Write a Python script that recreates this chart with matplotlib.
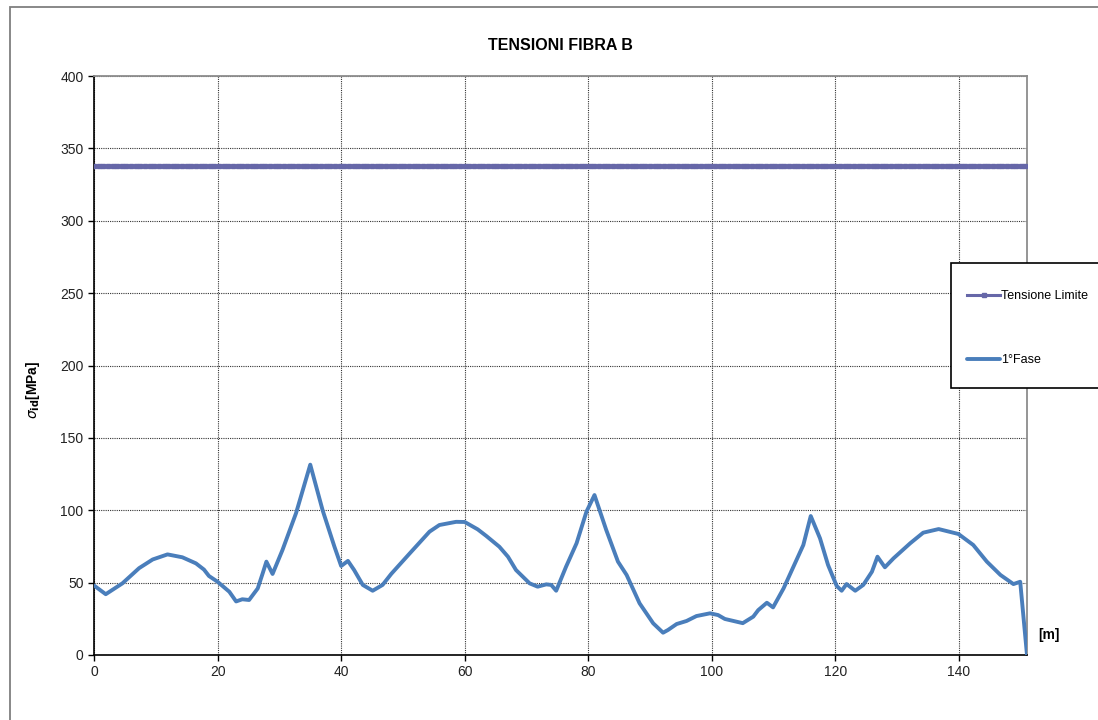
import numpy as np
import matplotlib
matplotlib.use("Agg")
import matplotlib.pyplot as plt
from matplotlib.patches import Rectangle

plt.rcParams['font.family'] = ['Liberation Sans', 'DejaVu Sans']

# data
x_fase = [0, 1.9, 4.6, 7.3, 9.5, 11.9, 14.3, 16.5, 17.8, 18.6, 20, 21.9, 23, 24, 25.1,
          26.5, 27.3, 27.9, 28.9, 30.5, 32.7, 35, 37, 38.9, 40, 41.1, 42.1, 43.5, 45.1,
          46.7, 48.1, 51.1, 54.3, 55.9, 58.6, 60, 62.1, 63.5, 65.6, 67, 68.3, 70.5,
          71.8, 73.2, 74, 74.8, 76.4, 78.1, 79.7, 81, 82.9, 84.8, 86.2, 88.3, 90.5,
          92.1, 92.9, 94.3, 95.9, 97.5, 99.7, 101, 102.1, 105, 106.7, 107.5, 108.9,
          109.9, 111.6, 113.2, 114.8, 116, 117.5, 118.8, 120.2, 121, 121.8, 123.2,
          124.5, 125.9, 126.8, 128, 129.4, 132.1, 134.2, 136.7, 139.9, 142.3, 144.5,
          146.7, 148.8, 149.9, 151]
y_fase = [48, 42, 49.5, 60, 66, 69.5, 67.5, 63.3, 59, 54.6, 50.6, 43.7, 37, 38.5, 38,
          46, 56.4, 64.5, 56, 72.5, 98, 131.5, 100, 75, 61.5, 65, 58.7, 48.4, 44.4,
          48.4, 56, 70.2, 85.2, 89.8, 92, 91.9, 86.8, 82.2, 74.8, 67.9, 58.7, 49.5,
          47.2, 48.8, 48.4, 44.4, 61, 77.2, 99, 110.5, 86.4, 64.5, 55.3, 35.7, 21.9,
          15.4, 17.3, 21.4, 23.5, 26.9, 28.8, 27.6, 24.9, 22, 26.5, 31, 36.1,
          32.9, 46, 61, 76, 96, 80.6, 62.2, 47.7, 44.4, 49, 44.4,
          48.4, 57.5, 67.9, 60.6, 66.8, 77.2, 84.5, 87, 83.6, 76, 64.5,
          55.3, 49, 50.6, 0]
tensione_limite = 338
x_limite = np.arange(0, 151.5, 0.75)
y_limite = np.full_like(x_limite, tensione_limite)

xticks = [0, 20, 40, 60, 80, 100, 120, 140]
yticks = [0, 50, 100, 150, 200, 250, 300, 350, 400]

fig = plt.figure(figsize=(10.98, 7.2), dpi=100)
ax = fig.add_axes([94/1098, 1 - 655/720, (1027-94)/1098, (655-76)/720])

# outer chart frame
fig.patches.append(Rectangle((10/1098, -0.1), 2, 1.1 - 7/720, transform=fig.transFigure,
                             fill=False, edgecolor='#7f7f7f', linewidth=1.3))

l1, = ax.plot(x_limite, y_limite, color='#6667a8', linewidth=2.2, marker='s',
              markersize=2.2, label='Tensione Limite', zorder=3)
l2, = ax.plot(x_fase, y_fase, color='#4a7ebb', linewidth=2.8, label='1°Fase',
              solid_joinstyle='round', solid_capstyle='round', zorder=4)

ax.set_xlim(0, 151)
ax.set_ylim(0, 400)
ax.set_xticks(xticks)
ax.set_yticks(yticks)
ax.tick_params(labelsize=10, direction='out', length=4, width=1, colors='black',
               labelcolor='#222222')
ax.grid(True, color='#333333', linestyle=(0, (1, 1)), linewidth=0.8)
for s in ['top', 'right']:
    ax.spines[s].set_color('#8c8c8c')
    ax.spines[s].set_linewidth(1.3)
for s in ['left', 'bottom']:
    ax.spines[s].set_linewidth(1.2)

fig.text(560/1098, 1 - 45/720, 'TENSIONI FIBRA B', ha='center', va='center',
         fontsize=11.5, fontweight='bold')
fig.text(33/1098, 1 - 390/720, r'$\sigma_{\mathbf{id}}$[MPa]', rotation=90, ha='center',
         va='center', fontsize=10, fontweight='bold')
fig.text(1049/1098, 1 - 635/720, '[m]', ha='center', va='center', fontsize=10,
         fontweight='bold')

# legend box
fig.patches.append(Rectangle((951/1098, 1 - 388/720), 0.2, (388-263)/720,
                             transform=fig.transFigure, facecolor='white',
                             edgecolor='black', linewidth=1.2, zorder=5))
leg = fig.legend(handles=[l1, l2], loc='upper left',
                 bbox_to_anchor=(956/1098, 1 - 279/720), frameon=False,
                 fontsize=9, handlelength=2.6, handletextpad=0.1, labelspacing=4.15)
leg.set_zorder(6)

fig.savefig('out.png', dpi=100)
